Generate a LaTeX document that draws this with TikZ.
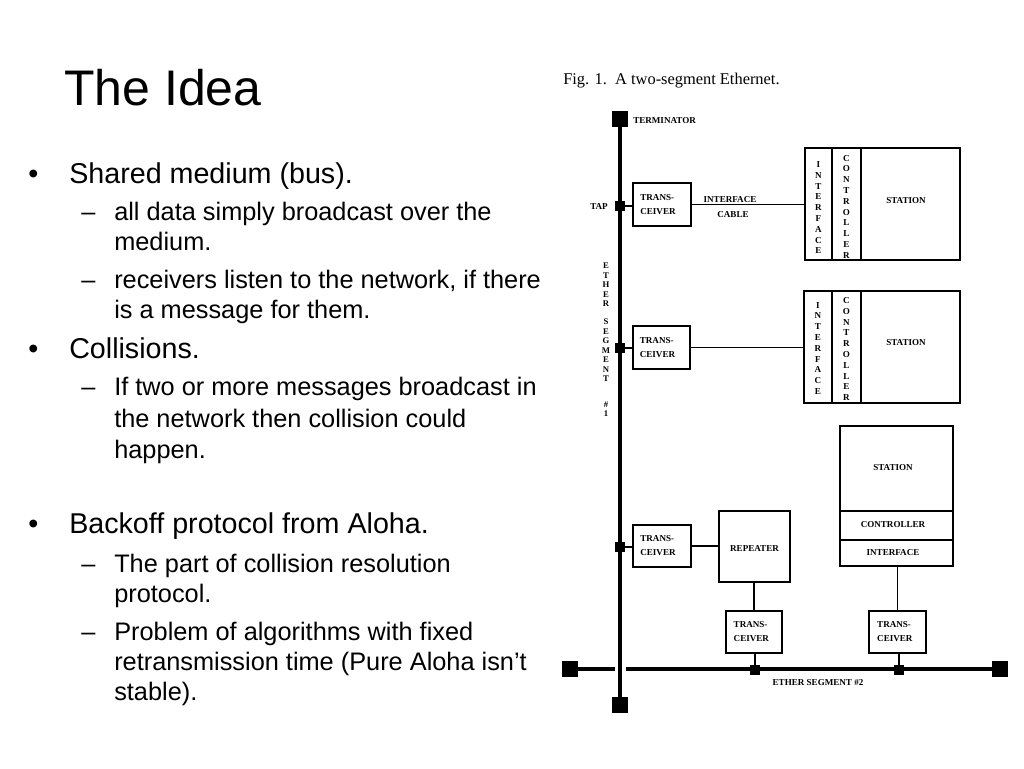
\documentclass[tikz,border=0pt]{standalone}
\usepackage{fontspec}
\setmainfont{Liberation Sans}
\newfontfamily\figfont{Liberation Serif}
\usetikzlibrary{fit}
\begin{document}
\begin{tikzpicture}[x=0.75pt,y=-0.75pt,
  titletext/.style={anchor=base west,inner sep=0,font=\fontsize{37.5}{40}\selectfont},
  lvlone/.style={anchor=base west,inner sep=0,font=\fontsize{21.5}{24}\selectfont},
  lvltwo/.style={anchor=base west,inner sep=0,font=\fontsize{19}{22}\selectfont},
  captext/.style={anchor=base west,inner sep=0,font=\figfont\fontsize{12.3}{14}\selectfont},
  lbl/.style={inner sep=0,font=\figfont\bfseries\fontsize{6.8}{8}\selectfont},
  trlbl/.style={inner sep=0,align=left,font=\figfont\bfseries\fontsize{6.8}{10.5}\selectfont},
  vlbl/.style={inner sep=0,align=center,font=\figfont\bfseries\fontsize{6.8}{8.1}\selectfont},
  elbl/.style={inner sep=0,align=center,font=\figfont\bfseries\fontsize{6.5}{7.1}\selectfont},
  box/.style={draw,line width=1.1pt,inner sep=0},
  bus/.style={line width=3pt},
  wire/.style={line width=1.1pt},
  term/.style={fill=black,minimum size=12pt,inner sep=0},
  tapsq/.style={fill=black,minimum size=7pt,inner sep=0}]
\useasboundingbox (0,0) rectangle (1024,768);
\fill[white] (0,0) rectangle (1024,768);

% ---------- slide text ----------
\node[titletext] (title) at (64,105) {The Idea};
\node[lvlone] (b1) at (28,183) {\textbullet};
\node[lvlone] (t1) at (69,183) {Shared medium (bus).};
\node[lvltwo] (d1) at (81,220) {--};
\node[lvltwo] (s1a) at (114,220) {all data simply broadcast over the};
\node[lvltwo] (s1b) at (114,250) {medium.};
\node[lvltwo] (d2) at (81,288) {--};
\node[lvltwo] (s2a) at (114,288) {receivers listen to the network, if there};
\node[lvltwo] (s2b) at (114,318) {is a message for them.};
\node[lvlone] (b2) at (28,358) {\textbullet};
\node[lvlone] (t2) at (69,358) {Collisions.};
\node[lvltwo] (d3) at (81,395) {--};
\node[lvltwo] (s3a) at (114,395) {If two or more messages broadcast in};
\node[lvltwo] (s3b) at (114,427) {the network then collision could};
\node[lvltwo] (s3c) at (114,458) {happen.};
\node[lvlone] (b3) at (28,533) {\textbullet};
\node[lvlone] (t3) at (69,533) {Backoff protocol from Aloha.};
\node[lvltwo] (d4) at (81,572) {--};
\node[lvltwo] (s4a) at (114,572) {The part of collision resolution};
\node[lvltwo] (s4b) at (114,602) {protocol.};
\node[lvltwo] (d5) at (81,640) {--};
\node[lvltwo] (s5a) at (114,640) {Problem of algorithms with fixed};
\node[lvltwo] (s5b) at (114,670) {retransmission time (Pure Aloha isn't};
\node[lvltwo] (s5c) at (114,700) {stable).};

% ---------- figure ----------
\node[captext] (cap) at (563,84) {Fig. 1.\ \ A two-segment Ethernet.};

% boxes
\node[box,fit={(633,183) (691,226)}] (tr1) {};
\node[box,fit={(633,326) (690,369)}] (tr2) {};
\node[box,fit={(633,525) (691,567)}] (tr3) {};
\node[box,fit={(726,611) (782,653)}] (tr4) {};
\node[box,fit={(869,611) (926,653)}] (tr5) {};
\node[box,fit={(719,511) (790,582)}] (rep) {};
\node[trlbl] (tr1t) at ([xshift=-3pt]tr1.center) {TRANS-\\CEIVER};
\node[trlbl] (tr2t) at ([xshift=-3pt]tr2.center) {TRANS-\\CEIVER};
\node[trlbl] (tr3t) at ([xshift=-3pt]tr3.center) {TRANS-\\CEIVER};
\node[trlbl] (tr4t) at ([xshift=-2pt]tr4.center) {TRANS-\\CEIVER};
\node[trlbl] (tr5t) at ([xshift=-2pt]tr5.center) {TRANS-\\CEIVER};
\node[lbl] (rept) at ([yshift=-1.2pt]rep.center) {REPEATER};

\node[box,fit={(805,148) (832,260)}] (if1) {};
\node[box,fit={(832,148) (861,260)}] (ct1) {};
\node[box,fit={(861,148) (960,260)}] (st1) {};
\node[vlbl] (if1t) at ([yshift=-2.8pt]if1.center) {I\\N\\T\\E\\R\\F\\A\\C\\E};
\node[vlbl] (ct1t) at ([yshift=-2pt]ct1.center) {C\\O\\N\\T\\R\\O\\L\\L\\E\\R};
\node[lbl] (st1t) at (906,201) {STATION};

\node[box,fit={(804,291) (832,403)}] (if2) {};
\node[box,fit={(832,291) (861,403)}] (ct2) {};
\node[box,fit={(861,291) (960,403)}] (st2) {};
\node[vlbl] (if2t) at ([yshift=-1pt]if2.center) {I\\N\\T\\E\\R\\F\\A\\C\\E};
\node[vlbl] (ct2t) at ([yshift=-1.5pt]ct2.center) {C\\O\\N\\T\\R\\O\\L\\L\\E\\R};
\node[lbl] (st2t) at (906,343) {STATION};

\node[box,fit={(840,426) (953,511)}] (st3) {};
\node[lbl] (st3t) at (893,468) {STATION};
\node[box,fit={(840,511) (953,540)}] (ct3) {};
\node[lbl] (ct3t) at (893,525) {CONTROLLER};
\node[box,fit={(840,540) (953,566)}] (if3) {};
\node[lbl] (if3t) at (893,553) {INTERFACE};

% buses
\node[term] (termT) at (620,119) {};
\node[term] (termB) at (620,705) {};
\node[term] (termL) at (570,669) {};
\node[term] (termR) at (1000,669) {};
\coordinate (gapL) at (615,669);
\coordinate (gapR) at (626,669);
\draw[bus] (termL.center) -- (gapL);
\draw[bus] (gapR) -- (termR.center);
\draw[bus] (termT.center) -- (termB.center);

% taps
\node[tapsq] (tap1) at (620,206) {};
\node[tapsq] (tap2) at (620,348) {};
\node[tapsq] (tap3) at (620,547) {};
\node[tapsq] (tap4) at (755,670) {};
\node[tapsq] (tap5) at (899,670) {};

% connectors
\draw[wire] (tap1.center) -- (tap1.center -| tr1.west);
\draw[wire] (tap2.center) -- (tap2.center -| tr2.west);
\draw[wire] (tap3.center) -- (tap3.center -| tr3.west);
\draw[wire] (tr4.south -| tap4.center) -- (tap4.center);
\draw[wire] (tr5.south -| tap5.center) -- (tap5.center);
\draw[wire] (tr1.east) -- (tr1.east -| if1.west);
\draw[wire] (tr2.east) -- (tr2.east -| if2.west);
\draw[wire] (tr3.east) -- (tr3.east -| rep.west);
\draw[wire] (tr4.north) -- (tr4.north |- rep.south);
\draw[wire] (tr5.north) -- (tr5.north |- if3.south);

% labels
\node[lbl,anchor=west] (lterm) at (633,121) {TERMINATOR};
\node[lbl,anchor=east] (ltap) at (608,207) {TAP};
\node[lbl] (lif) at (730,200) {INTERFACE};
\node[lbl] (lcab) at (733,215) {CABLE};
\node[elbl] (le1) at (606,285) {E\\T\\H\\E\\R};
\node[elbl] (le2) at (606,350.5) {S\\E\\G\\M\\E\\N\\T};
\node[elbl] (le3) at (606,409) {\#\\1};
\node[lbl] (le4) at (818,683) {ETHER SEGMENT \#2};
\end{tikzpicture}
\end{document}
